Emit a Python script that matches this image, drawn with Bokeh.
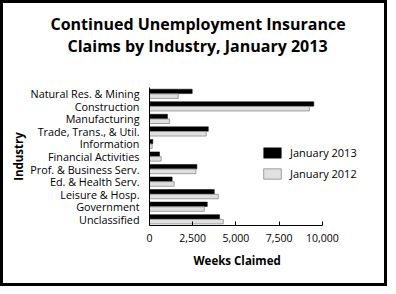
from bokeh.plotting import figure
from bokeh.models import (FactorRange, Range1d, Legend, LegendItem, Title,
                          NumeralTickFormatter, FixedTicker)
from bokeh.transform import dodge
from bokeh.embed import file_html
from bokeh.resources import INLINE

industries = ["Natural Res. & Mining", "Construction", "Manufacturing",
              "Trade, Trans., & Util.", "Information", "Financial Activities",
              "Prof. & Business Serv.", "Ed. & Health Serv.", "Leisure & Hosp.",
              "Government", "Unclassified"]
jan_2013 = [2470, 9500, 1040, 3400, 190, 580, 2740, 1310, 3745, 3340, 4050]
jan_2012 = [1660, 9245, 1160, 3280, 155, 675, 2680, 1430, 3975, 3165, 4265]
x_ticks = [0, 2500, 5000, 7500, 10000]
title_lines = ["Continued Unemployment Insurance", "Claims by Industry, January 2013"]
x_title = "Weeks Claimed"
y_title = "Industry"

FONT = "Open Sans"
X_MAX = 10000
X_VIEW = 13530  # frame extends to the right to make room for the legend

p = figure(width=387, height=286, output_backend="svg", toolbar_location=None,
           y_range=FactorRange(factors=list(reversed(industries))),
           x_range=Range1d(0, X_VIEW),
           min_border_left=146, min_border_right=7, min_border_top=84, min_border_bottom=64,
           styles={"border": "3px solid black"})
p.background_fill_color = "white"
p.border_fill_color = "white"
p.outline_line_color = None
p.grid.visible = False

src = dict(ind=industries, a=jan_2013, b=jan_2012)
r1 = p.hbar(y=dodge("ind", 0.19, range=p.y_range), right="a", left=0, height=0.35,
            source=src, fill_color="black", line_color="black", line_width=0.5)
r2 = p.hbar(y=dodge("ind", -0.19, range=p.y_range), right="b", left=0, height=0.36,
            source=src, fill_color="#e0e0e0", line_color="#8c8c8c", line_width=0.8)

# axes
p.xaxis.bounds = (0, X_MAX)
p.xaxis.ticker = FixedTicker(ticks=x_ticks)
p.xaxis.formatter = NumeralTickFormatter(format="0,0")
p.xaxis.major_tick_in = 4
p.xaxis.major_tick_out = 0
p.xaxis.minor_tick_line_color = None
p.xaxis.major_label_standoff = 8
p.xaxis.major_label_text_font = FONT
p.xaxis.major_label_text_font_size = "10.5px"
p.xaxis.major_label_text_color = "black"
p.xaxis.axis_line_color = "black"

p.yaxis.major_tick_line_color = None
p.yaxis.minor_tick_line_color = None
p.yaxis.major_label_standoff = 4
p.yaxis.major_label_text_font = FONT
p.yaxis.major_label_text_font_size = "10.8px"
p.yaxis.major_label_text_color = "black"
p.yaxis.axis_label = y_title
p.yaxis.axis_label_text_font = FONT
p.yaxis.axis_label_text_font_size = "11.5px"
p.yaxis.axis_label_text_font_style = "bold"
p.yaxis.axis_label_text_color = "black"
p.yaxis.axis_label_standoff = 1
p.yaxis.axis_line_color = "black"

# x axis title, centred under the 0-10,000 span
p.add_layout(Title(text=x_title, align="left", offset=44, standoff=12,
                   text_font=FONT, text_font_size="11.5px", text_font_style="bold",
                   text_color="black"), "below")

# legend
legend = Legend(items=[LegendItem(label="January 2013", renderers=[r1]),
                       LegendItem(label="January 2012", renderers=[r2])],
                location=(112, 44), orientation="vertical",
                glyph_width=22, glyph_height=13, label_height=13, spacing=6,
                label_standoff=7, padding=0, margin=0,
                border_line_color=None, background_fill_alpha=0,
                label_text_font=FONT, label_text_font_size="11px",
                label_text_color="black")
p.add_layout(legend, "center")

# title: spacer nearest the frame, then line 2, then line 1
spacer = Title(text=" ", align="left", standoff=15, text_font=FONT,
               text_font_size="10px", text_color="white")
t2 = Title(text=title_lines[1], align="left", offset=-82, standoff=0,
           text_font=FONT, text_font_size="16px", text_font_style="bold",
           text_color="black")
t1 = Title(text=title_lines[0], align="left", offset=-99, standoff=-4,
           text_font=FONT, text_font_size="16px", text_font_style="bold",
           text_color="black")
p.add_layout(spacer, "above")
p.add_layout(t2, "above")
p.add_layout(t1, "above")

open("out.html", "w").write(file_html(p, INLINE))
